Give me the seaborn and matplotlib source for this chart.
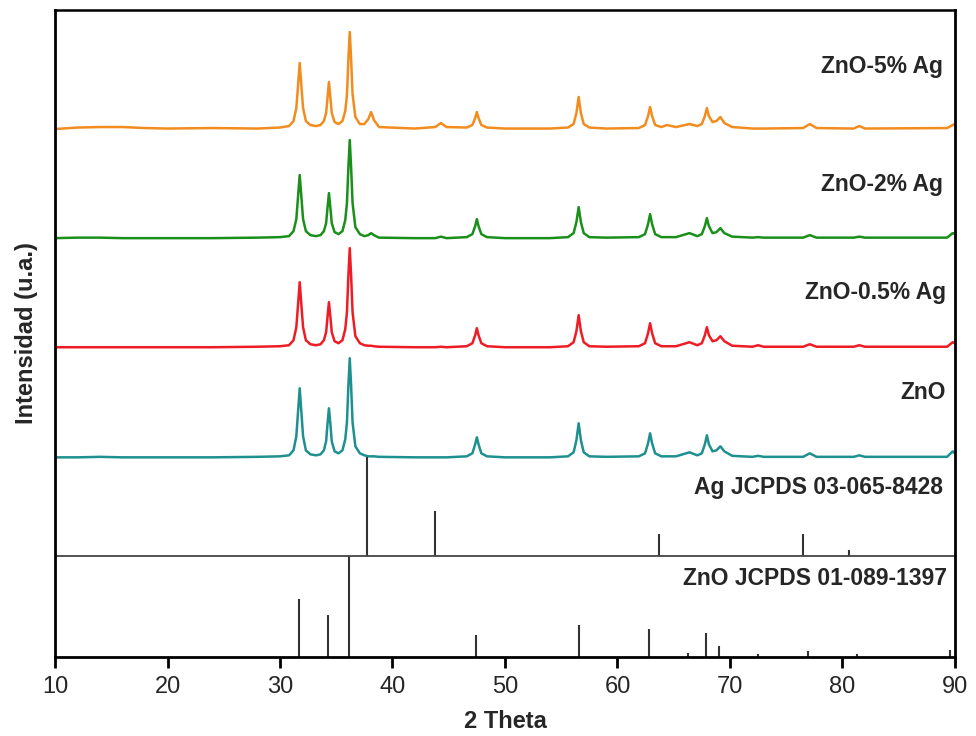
import matplotlib
matplotlib.use("Agg")
import matplotlib.pyplot as plt
import seaborn as sns
import pandas as pd

# ---------------- data (arbitrary units) ----------------
two_theta = [10, 12, 14, 16, 18, 20, 24, 28, 30,
             30.8, 31.2, 31.45, 31.6, 31.75, 31.9, 32.05, 32.3, 32.7,
             33.2, 33.6, 33.9, 34.1, 34.22, 34.35, 34.48, 34.6, 34.85,
             35.2, 35.55, 35.8, 35.95, 36.08, 36.2, 36.32, 36.45, 36.7, 37.1,
             37.5, 37.85, 38.1, 38.35, 38.8,
             42.0, 43.8, 44.3, 44.8,
             46.6, 47.1, 47.35, 47.5, 47.65, 47.9, 48.4,
             50.0, 54.0,
             55.6, 56.1, 56.35, 56.55, 56.75, 57.0, 57.5,
             59.0,
             61.9, 62.45, 62.72, 62.9, 63.08, 63.35, 63.9,
             64.4, 65.2, 66.4, 67.1,
             67.5, 67.77, 67.95, 68.13, 68.45, 68.8, 69.15, 69.5, 70.2,
             72.0, 72.5, 73.0,
             76.5, 77.1, 77.7,
             81.0, 81.5, 82.0,
             89.3, 89.8, 90.0]

int_zno = [0, 0, 0.5, 0, 0, 0, 0, 0.5, 1,
           2, 7, 21, 45, 69, 45, 21, 7, 3,
           2, 3, 7, 16, 33, 49, 33, 16, 6,
           4, 7, 18, 35, 72, 99, 72, 35, 11, 4,
           2, 1, 1, 1, 0.5,
           0, 0, 0, 0,
           1, 4, 13, 20, 13, 4, 1,
           0, 0,
           1, 5, 17, 34, 17, 5, 1,
           0.5,
           1, 4, 14, 24, 14, 4, 1,
           1, 1, 5, 2,
           4, 13, 22, 13, 6, 7, 11, 6, 1.5,
           0.5, 1.5, 0.5,
           0.5, 4, 0.5,
           0.5, 2, 0.5,
           0.5, 6, 4]

int_05ag = [0, 0, 0, 0, 0, 0, 0, 0.5, 1,
            2, 7, 20, 42, 65, 42, 20, 7, 3,
            2, 3, 7, 15, 30, 45, 30, 15, 6,
            4, 7, 18, 35, 72, 99, 72, 35, 11, 4,
            2, 1.5, 1.5, 1, 0.5,
            0, 0, 0.5, 0,
            1, 4, 12, 19, 12, 4, 1,
            0, 0,
            1, 5, 16, 32, 16, 5, 1,
            0.5,
            1, 4, 14, 24, 14, 4, 1,
            1, 1, 5, 2,
            4, 12, 20, 12, 6, 7, 11, 6, 1.5,
            0.5, 2, 0.5,
            0.5, 3, 0.5,
            0.5, 2, 0.5,
            0.5, 5, 4]

int_2ag = [0, 0.5, 0.5, 0, 0, 0, 0, 0.5, 1,
           2, 7, 19, 41, 63, 41, 19, 7, 3,
           2, 3, 7, 15, 30, 45, 30, 15, 6,
           4, 7, 18, 35, 71, 98, 71, 35, 11, 4,
           2, 3, 5, 3, 0.5,
           0, 0, 1.5, 0,
           1, 4, 12, 19, 12, 4, 1,
           0, 0,
           1, 5, 16, 31, 16, 5, 1,
           0.5,
           1, 4, 14, 24, 14, 4, 1,
           1, 1, 5, 2,
           4, 12, 20, 12, 5, 6, 10, 5, 1.5,
           0.5, 1, 0.5,
           0.5, 3, 0.5,
           0.5, 1.5, 0.5,
           0.5, 5, 4]

int_5ag = [0, 1.5, 2, 2, 1, 0.5, 1, 0.5, 1.5,
           3, 8, 21, 43, 66, 43, 21, 8, 4,
           3, 4, 8, 16, 31, 47, 31, 16, 7,
           5, 8, 18, 34, 70, 97, 70, 35, 12, 5,
           5, 10, 17, 9, 2,
           0.5, 2, 6, 2,
           1.5, 4, 11, 17, 11, 4, 1.5,
           0.5, 0.5,
           1.5, 5, 16, 32, 16, 5, 1.5,
           0.5,
           1, 4, 13, 22, 13, 4, 2,
           4, 2, 5, 3,
           5, 13, 21, 13, 7, 8, 12, 6, 2,
           0.5, 0.5, 0.5,
           1, 5, 1,
           0.5, 3, 0.5,
           1, 4, 5]

samples = ["ZnO", "ZnO-0.5% Ag", "ZnO-2% Ag", "ZnO-5% Ag"]
sample_offsets = [199, 309, 418, 527]
sample_colors = ["#1F9090", "#EE1C24", "#1A8F1A", "#F28C1E"]

ag_pos = [37.7, 43.8, 63.7, 76.5, 80.6]
ag_int = [99, 45, 22, 22, 6]
ag_offset = 100

zno_ref_pos = [31.7, 34.3, 36.1, 47.4, 56.55, 62.8, 66.3, 67.9, 69.0, 72.5, 76.9, 81.3, 89.6]
zno_ref_int = [57, 41, 100, 21, 31, 27, 4, 23, 11, 3, 6, 3, 7]
zno_ref_offset = 0

ref_labels = ["Ag JCPDS 03-065-8428", "ZnO JCPDS 01-089-1397"]
x_ticks = [10, 20, 30, 40, 50, 60, 70, 80, 90]

# ---------------- build table ----------------
intensities = [int_zno, int_05ag, int_2ag, int_5ag]
frames = []
for name, off, vals in zip(samples, sample_offsets, intensities):
    frames.append(pd.DataFrame({"2theta": two_theta,
                                "I": [v + off for v in vals],
                                "sample": name}))
df = pd.concat(frames, ignore_index=True)

# ---------------- plot ----------------
sns.set_theme(style="white")
plt.rcParams["font.family"] = ["Liberation Sans", "DejaVu Sans"]

fig = plt.figure(figsize=(9.76, 7.36), dpi=100)
ax = fig.add_axes([0.0564, 0.108, 0.922, 0.8785])

sns.lineplot(data=df, x="2theta", y="I", hue="sample", hue_order=samples,
             palette=dict(zip(samples, sample_colors)), estimator=None,
             sort=False, linewidth=1.8, legend=False, ax=ax)

# reference stick patterns
ax.vlines(ag_pos, ag_offset, [ag_offset + v for v in ag_int], color="#333333", linewidth=1.5)
ax.vlines(zno_ref_pos, zno_ref_offset, [zno_ref_offset + v for v in zno_ref_int],
          color="#333333", linewidth=1.5)
ax.axhline(ag_offset, color="#444444", linewidth=1.3)

ax.set_xlim(10, 90)
ax.set_ylim(0, 646)
ax.set_xticks(x_ticks)
ax.set_yticks([])
ax.tick_params(axis="x", direction="out", length=8, width=2, labelsize=17,
               bottom=True, pad=6, color="black")
for s in ax.spines.values():
    s.set_color("black")
    s.set_linewidth(2)
ax.spines["top"].set_linewidth(1.8)

ax.set_xlabel("2 Theta", fontsize=17, fontweight="bold", labelpad=9)
ax.set_ylabel("Intensidad (u.a.)", fontsize=17, fontweight="bold", labelpad=12)

# text labels at right (positions in data units)
label_y = [264, 364, 472, 589]
label_x = [89.2, 89.2, 88.9, 88.9]
for name, xx, yy in zip(samples, label_x, label_y):
    ax.text(xx, yy, name, ha="right", va="center", fontsize=16.5, fontweight="bold")
ax.text(88.9, 169, ref_labels[0], ha="right", va="center", fontsize=16.5, fontweight="bold")
ax.text(89.3, 78, ref_labels[1], ha="right", va="center", fontsize=16.5, fontweight="bold")

fig.savefig("out.png", dpi=100)
